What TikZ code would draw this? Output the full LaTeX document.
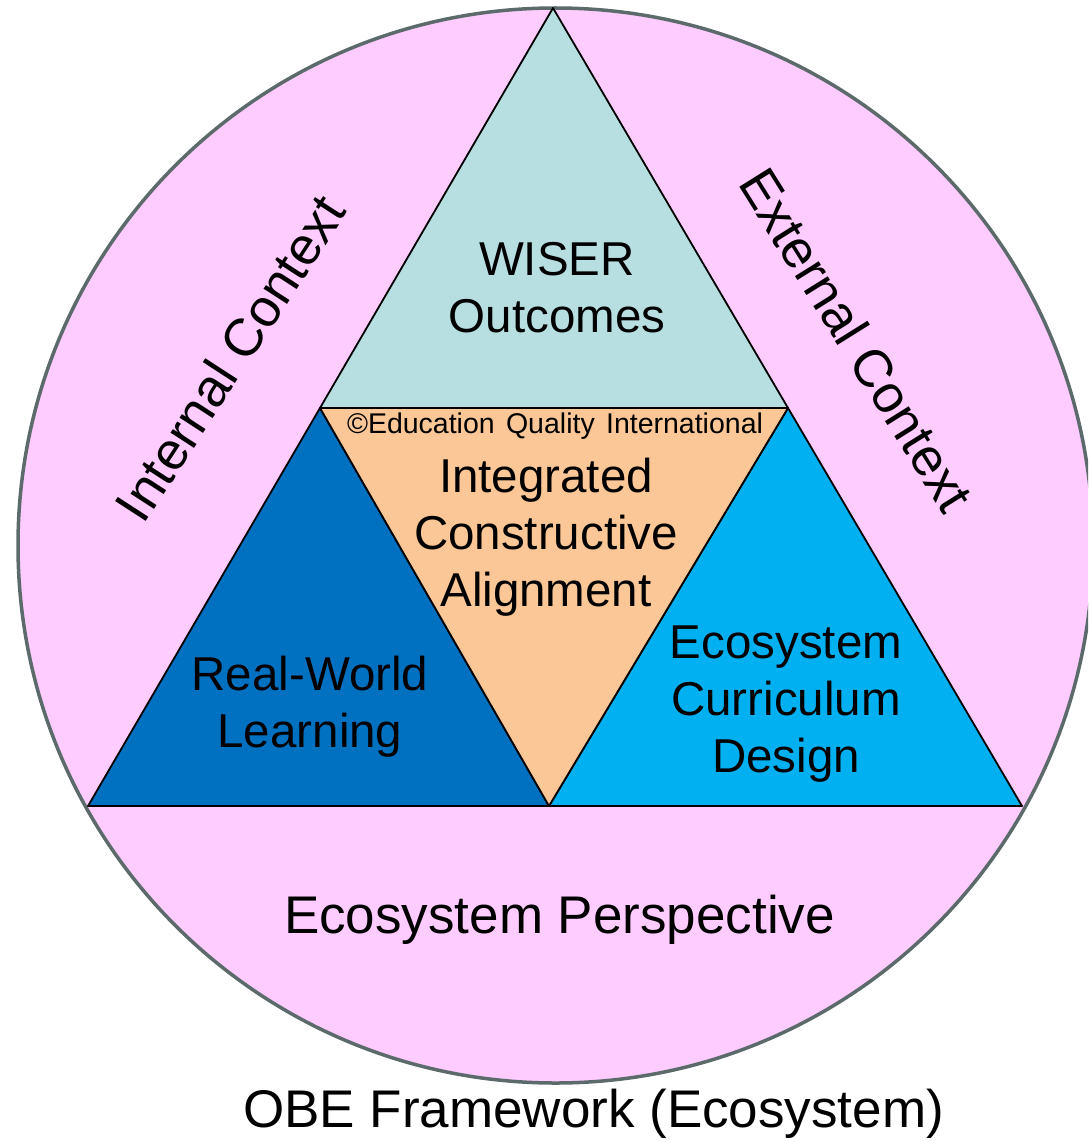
\documentclass[tikz,border=0pt]{standalone}
\usepackage{fontspec}
\setmainfont{Liberation Sans}
\definecolor{pinkbg}{HTML}{FFCCFF}
\definecolor{rimgray}{HTML}{5C6A6C}
\definecolor{tealtop}{HTML}{B7DEE1}
\definecolor{peachmid}{HTML}{FBC796}
\definecolor{darkblue}{HTML}{0070C0}
\definecolor{lightblue}{HTML}{00B0F0}
\tikzset{
  tri/.style={draw=black, line width=1.8pt, line join=round},
  inner/.style={font=\fontsize{47.5}{57}\selectfont, align=center, inner sep=0pt, anchor=center},
  outer/.style={font=\fontsize{53}{60}\selectfont, inner sep=0pt},
}
\begin{document}
\begin{tikzpicture}[x=1pt,y=-1pt]
\useasboundingbox (0,0) rectangle (1088,1142);
\begin{scope}
  \clip (0,0) rectangle (1088,1142);
  \draw[fill=pinkbg, draw=rimgray, line width=3.5pt] (555.5,545.5) circle [radius=537.5pt];
\end{scope}
\coordinate (A) at (553,8);
\coordinate (BL) at (88,806);
\coordinate (BR) at (1022,806);
\coordinate (ML) at (320,408);
\coordinate (MR) at (788,408);
\coordinate (MB) at (549,806);
\filldraw[tri, fill=tealtop] (A) -- (ML) -- (MR) -- cycle;
\filldraw[tri, fill=darkblue] (ML) -- (BL) -- (MB) -- cycle;
\filldraw[tri, fill=lightblue] (MR) -- (MB) -- (BR) -- cycle;
\filldraw[tri, fill=peachmid] (ML) -- (MR) -- (MB) -- cycle;
\node[inner] (wiser) at (557,288) {WISER\\Outcomes};
\node[font=\fontsize{28.5}{32}\selectfont, inner sep=0pt, anchor=base] (copy) at (555,433) {\copyright Education\hspace{0.12em} Quality\hspace{0.12em} International};
\node[inner] (ica) at (546,537) {Integrated\\Constructive\\Alignment};
\node[inner] (rwl) at (310,707) {Real-World\\Learning};
\node[inner] (ecd) at (786,704) {Ecosystem\\Curriculum\\Design};
\node[outer, anchor=base] (persp) at (559.5,933) {Ecosystem Perspective};
\node[outer, anchor=base] (title) at (593.5,1127) {OBE Framework (Ecosystem)};
\node[outer, anchor=center, rotate=57] (internal) at (230,358) {Internal Context};
\node[outer, anchor=center, rotate=-58] (external) at (857,340) {External Context};
\end{tikzpicture}
\end{document}
